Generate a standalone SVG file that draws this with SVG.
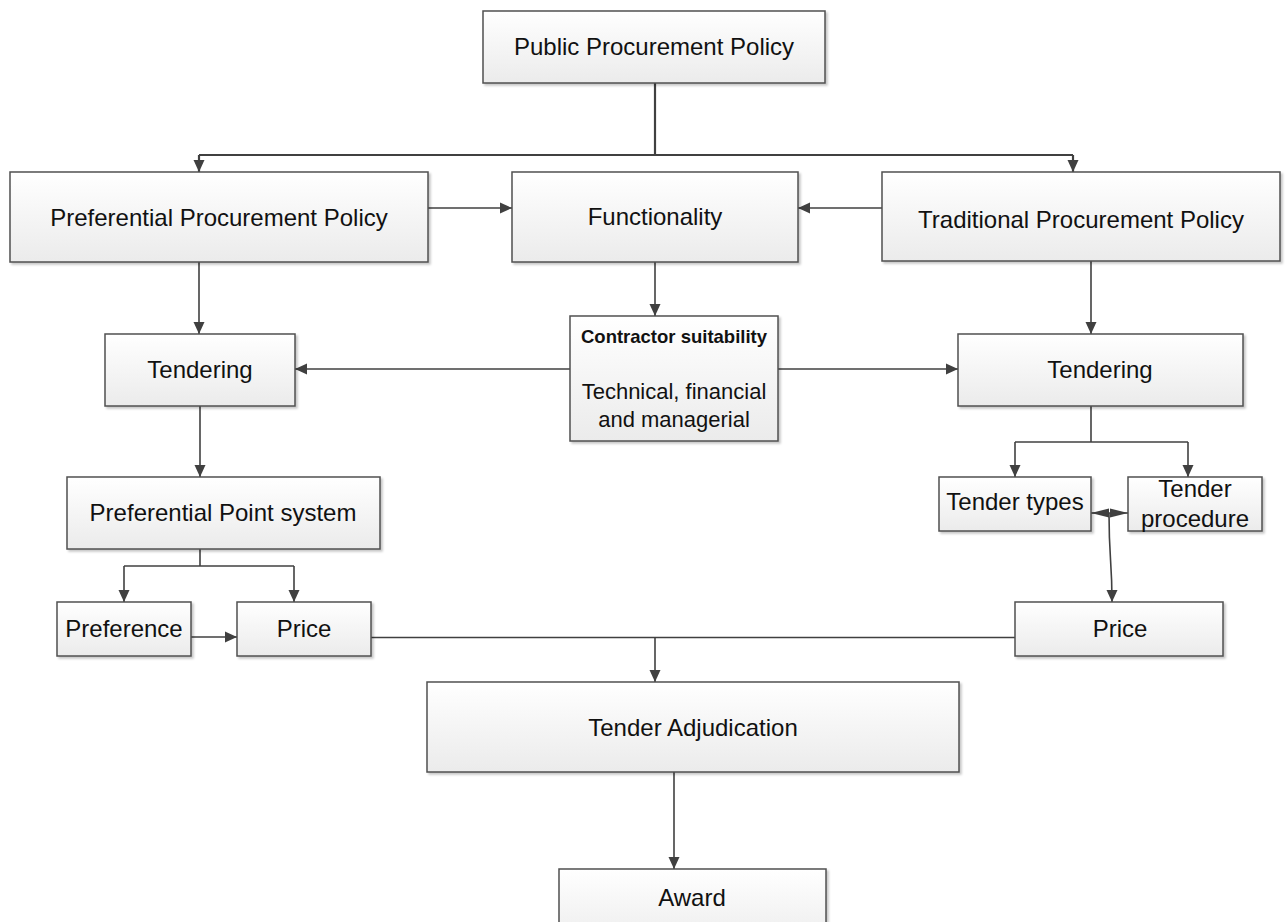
<svg xmlns="http://www.w3.org/2000/svg" width="1286" height="922" viewBox="0 0 1286 922">
<defs>
<linearGradient id="bg" x1="0" y1="0" x2="0" y2="1">
<stop offset="0" stop-color="#ffffff"/>
<stop offset="1" stop-color="#ebebeb"/>
</linearGradient>
<filter id="sh" x="-5%" y="-5%" width="115%" height="120%">
<feDropShadow dx="2" dy="2" stdDeviation="1.2" flood-color="#000" flood-opacity="0.22"/>
</filter>
<marker id="ah" markerUnits="userSpaceOnUse" markerWidth="14" markerHeight="12" refX="12" refY="6" orient="auto-start-reverse">
<path d="M0,0.5 L12,6 L0,11.5 Z" fill="#404040"/>
</marker>
<marker id="dh" markerUnits="userSpaceOnUse" markerWidth="20" markerHeight="12" refX="18" refY="6" orient="auto-start-reverse">
<path d="M0,6 L18,1.5 L18,10.5 Z" fill="#404040" transform="rotate(180 9 6)"/>
</marker>
</defs>
<style>
.box{fill:url(#bg);stroke:#505050;stroke-width:1.5;filter:url(#sh)}
.t{font-family:"Liberation Sans",Arial,sans-serif;font-size:24px;fill:#111;text-anchor:middle}
.b{font-weight:bold;font-size:18.5px}
.m{font-size:22px}
.c{fill:none;stroke:#404040;stroke-width:1.6}
.k{stroke-width:2.2}
.a{marker-end:url(#ah)}
</style>
<rect width="1286" height="922" fill="#ffffff"/>

<g id="connectors">
<path class="c k" d="M655,83 V155"/>
<path class="c k" d="M199,155 H1073"/>
<path class="c k a" d="M199,155 V172"/>
<path class="c k a" d="M1073,155 V172"/>
<path class="c a" d="M428,208 H512"/>
<path class="c a" d="M882,208 H798"/>
<path class="c a" d="M199,262 V334"/>
<path class="c a" d="M655,262 V316"/>
<path class="c a" d="M1091,261 V334"/>
<path class="c a" d="M570,369 H295"/>
<path class="c a" d="M778,369 H958"/>
<path class="c a" d="M200,406 V477"/>
<path class="c" d="M200,549 V566"/>
<path class="c" d="M124,566 H294"/>
<path class="c a" d="M124,566 V602"/>
<path class="c a" d="M294,566 V602"/>
<path class="c a" d="M191,637 H237"/>
<path class="c" d="M1091,406 V442"/>
<path class="c" d="M1015,442 H1188"/>
<path class="c a" d="M1015,442 V477"/>
<path class="c a" d="M1188,442 V477"/>
<path class="c" d="M1091,513 H1128" marker-start="url(#dh)" marker-end="url(#dh)"/>
<path class="c a" d="M1109,513 C1109,560 1112,560 1112,602"/>
<path class="c" d="M371,637.5 H1015"/>
<path class="c a" d="M655,637.5 V682"/>
<path class="c a" d="M674,772 V869"/>
</g>

<g id="n-public">
<rect class="box" x="483" y="11" width="342" height="72"/>
<text class="t" x="654" y="55">Public Procurement Policy</text>
</g>
<g id="n-preferential">
<rect class="box" x="10" y="172" width="418" height="90"/>
<text class="t" x="219" y="226">Preferential Procurement Policy</text>
</g>
<g id="n-functionality">
<rect class="box" x="512" y="172" width="286" height="90"/>
<text class="t" x="655" y="225">Functionality</text>
</g>
<g id="n-traditional">
<rect class="box" x="882" y="172" width="398" height="89"/>
<text class="t" x="1081" y="228">Traditional Procurement Policy</text>
</g>
<g id="n-tendering-left">
<rect class="box" x="105" y="334" width="190" height="72"/>
<text class="t" x="200" y="378">Tendering</text>
</g>
<g id="n-contractor">
<rect class="box" x="570" y="316" width="208" height="125"/>
<text class="t b" x="674" y="343">Contractor suitability</text>
<text class="t m" x="674" y="399">Technical, financial</text>
<text class="t m" x="674" y="427">and managerial</text>
</g>
<g id="n-tendering-right">
<rect class="box" x="958" y="334" width="285" height="72"/>
<text class="t" x="1100" y="378">Tendering</text>
</g>
<g id="n-point-system">
<rect class="box" x="67" y="477" width="313" height="72"/>
<text class="t" x="223" y="521">Preferential Point system</text>
</g>
<g id="n-tender-types">
<rect class="box" x="939" y="477" width="152" height="54"/>
<text class="t" x="1015" y="510">Tender types</text>
</g>
<g id="n-tender-procedure">
<rect class="box" x="1128" y="477" width="134" height="54"/>
<text class="t" x="1195" y="497">Tender</text>
<text class="t" x="1195" y="527">procedure</text>
</g>
<g id="n-preference">
<rect class="box" x="57" y="602" width="134" height="54"/>
<text class="t" x="124" y="637">Preference</text>
</g>
<g id="n-price-left">
<rect class="box" x="237" y="602" width="134" height="54"/>
<text class="t" x="304" y="637">Price</text>
</g>
<g id="n-price-right">
<rect class="box" x="1015" y="602" width="208" height="54"/>
<text class="t" x="1120" y="637">Price</text>
</g>
<g id="n-adjudication">
<rect class="box" x="427" y="682" width="532" height="90"/>
<text class="t" x="693" y="736">Tender Adjudication</text>
</g>
<g id="n-award">
<rect class="box" x="559" y="869" width="267" height="80"/>
<text class="t" x="692" y="906">Award</text>
</g>
</svg>
